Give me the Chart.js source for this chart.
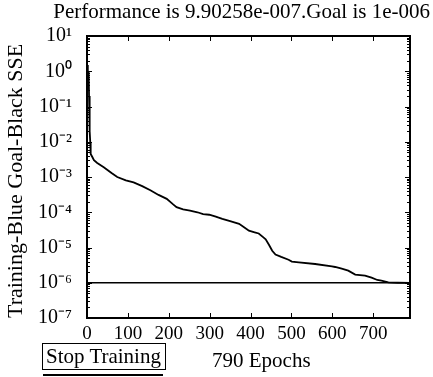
<!DOCTYPE html>
<html>
<head>
<meta charset="utf-8">
<script src="https://cdn.jsdelivr.net/npm/chart.js@4.4.1/dist/chart.umd.min.js"></script>
<style>
  html, body { margin: 0; padding: 0; background: #fff; }
  #wrap { position: relative; width: 433px; height: 377px; }
  #c { position: absolute; left: 0; top: 0; }
  #stop {
    position: absolute; left: 42px; top: 343px; width: 119px; height: 25px;
    border: 1px solid #000; box-sizing: content-box;
    font-family: 'Liberation Serif', serif; font-size: 21px; line-height: 25px;
    color: #000; padding-left: 3px; white-space: nowrap;
  }
  #stopShadow {
    position: absolute; left: 43px; top: 374px; width: 120px; height: 2px; background: #000;
  }
  #xlab {
    position: absolute; left: 212px; top: 350px;
    font-family: 'Liberation Serif', serif; font-size: 21px; line-height: 21px;
    color: #000; white-space: nowrap;
  }
</style>
</head>
<body>
<div id="wrap">
  <canvas id="c" width="433" height="377"></canvas>
  <div id="stop">Stop Training</div>
  <div id="stopShadow"></div>
  <div id="xlab"></div>
</div>
<script>
// ---- data ----
const epochs = [0, 2, 4, 5, 6, 7, 8, 9, 13, 17, 25, 41, 60, 74, 95, 114, 135, 155, 175, 195, 210, 219, 235, 252, 270, 284, 299, 315, 331, 350, 372, 385, 396, 410, 420, 430, 437, 445, 453, 461, 475, 493, 501, 518, 558, 599, 607, 623, 639, 656, 680, 696, 710, 720, 737, 760, 790];
const sse = [1.5, 0.6, 1.0, 0.2, 0.05, 0.02, 0.0095, 0.0045, 0.0037, 0.0030, 0.0025, 0.0019, 0.0013, 0.0010, 0.0008, 0.0007, 0.00055, 0.00042, 0.00031, 0.00024, 0.00017, 0.00014, 0.00012, 0.000112, 0.0001, 0.000089, 0.000085, 0.000075, 0.000065, 0.000056, 0.000047, 0.000037, 0.00003, 0.000027, 0.000025, 0.00002, 0.000017, 0.000012, 0.0000081, 0.0000063, 0.0000054, 0.0000045, 0.000004, 0.0000038, 0.0000034, 0.0000029, 0.0000028, 0.0000025, 0.0000022, 0.0000017, 0.0000016, 0.0000014, 0.0000012, 0.00000115, 0.00000102, 0.000001, 0.000000990258];
const goal = 1e-6;
const xTickValues = [0, 100, 200, 300, 400, 500, 600, 700];
const yTickExponents = [1, 0, -1, -2, -3, -4, -5, -6, -7];
const xMax = 790;
const titleText = 'Performance is 9.90258e-007.Goal is 1e-006';
const yTitle = 'Training-Blue Goal-Black SSE';
const xTitle = '790 Epochs';

document.getElementById('xlab').textContent = xTitle;

const SUP = {'0':'\u2070','1':'\u00B9','2':'\u00B2','3':'\u00B3','4':'\u2074','5':'\u2075','6':'\u2076','7':'\u2077','8':'\u2078','9':'\u2079','-':'\u207B'};
function supLabel(v) {
  const e = Math.round(Math.log10(v));
  return '10' + String(e).split('').map(ch => SUP[ch]).join('');
}

const FONT = 'Liberation Serif';

const frameTicks = {
  id: 'frameTicks',
  afterDatasetsDraw(chart) {
    const {ctx, chartArea: a, scales} = chart;
    const xs = scales.x, ys = scales.y;
    ctx.save();
    ctx.strokeStyle = '#000';
    ctx.lineWidth = 1;
    ctx.beginPath();
    xTickValues.forEach(v => {
      const px = Math.round(xs.getPixelForValue(v)) + 0.5;
      ctx.moveTo(px, a.bottom); ctx.lineTo(px, a.bottom - 5);
      ctx.moveTo(px, a.top); ctx.lineTo(px, a.top + 5);
    });
    yTickExponents.forEach(e => {
      for (let m = 1; m <= 9; m++) {
        const v = m * Math.pow(10, e);
        if (v > Math.pow(10, yTickExponents[0]) * 1.0001) continue;
        const py = Math.round(ys.getPixelForValue(v)) + 0.5;
        const len = m === 1 ? 5 : 3;
        ctx.moveTo(a.left, py); ctx.lineTo(a.left + len, py);
        ctx.moveTo(a.right, py); ctx.lineTo(a.right - len, py);
      }
    });
    ctx.stroke();
    ctx.lineWidth = 2;
    ctx.strokeRect(a.left, a.top, a.right - a.left, a.bottom - a.top);
    ctx.restore();
  }
};

new Chart(document.getElementById('c'), {
  type: 'line',
  data: {
    datasets: [
      {
        data: epochs.map((e, i) => ({x: e, y: sse[i]})),
        borderColor: '#000', borderWidth: 1.8, pointRadius: 0, tension: 0, fill: false
      },
      {
        data: [{x: 0, y: goal}, {x: xMax, y: goal}],
        borderColor: '#000', borderWidth: 1.5, pointRadius: 0, tension: 0, fill: false
      }
    ]
  },
  options: {
    responsive: false,
    animation: false,
    devicePixelRatio: 1,
    layout: { padding: { left: 0, right: 3, top: 0, bottom: 0 } },
    plugins: {
      legend: { display: false },
      tooltip: { enabled: false },
      title: {
        display: true, text: titleText, align: 'end', color: '#000',
        font: { family: FONT, size: 21, weight: 'normal' },
        padding: { top: 0, bottom: 10.8 }
      }
    },
    scales: {
      x: {
        type: 'linear', min: 0, max: xMax,
        grid: { display: false }, border: { display: false },
        afterBuildTicks: s => { s.ticks = xTickValues.map(v => ({value: v})); },
        ticks: { color: '#000', font: { family: FONT, size: 19 }, padding: -3, maxRotation: 0, autoSkip: false,
                 callback: v => String(v) },
        title: { display: false },
        afterFit: s => { s.height = 59; }
      },
      y: {
        type: 'logarithmic', min: 1e-7, max: 10,
        grid: { display: false }, border: { display: false },
        afterBuildTicks: s => { s.ticks = yTickExponents.map(e => ({value: Math.pow(10, e)})); },
        ticks: { color: '#000', font: { family: FONT, size: 20 }, padding: 7, autoSkip: false,
                 callback: v => supLabel(v) },
        title: { display: true, text: yTitle, align: 'start', color: '#000', font: { family: FONT, size: 22 }, padding: { top: 3, bottom: 0 } },
        afterFit: s => { s.width = 87; }
      },
      y2: {
        type: 'linear', position: 'right', display: true,
        grid: { display: false }, border: { display: false },
        ticks: { display: false },
        afterFit: s => { s.width = 20; }
      }
    }
  },
  plugins: [frameTicks]
});
</script>
</body>
</html>
